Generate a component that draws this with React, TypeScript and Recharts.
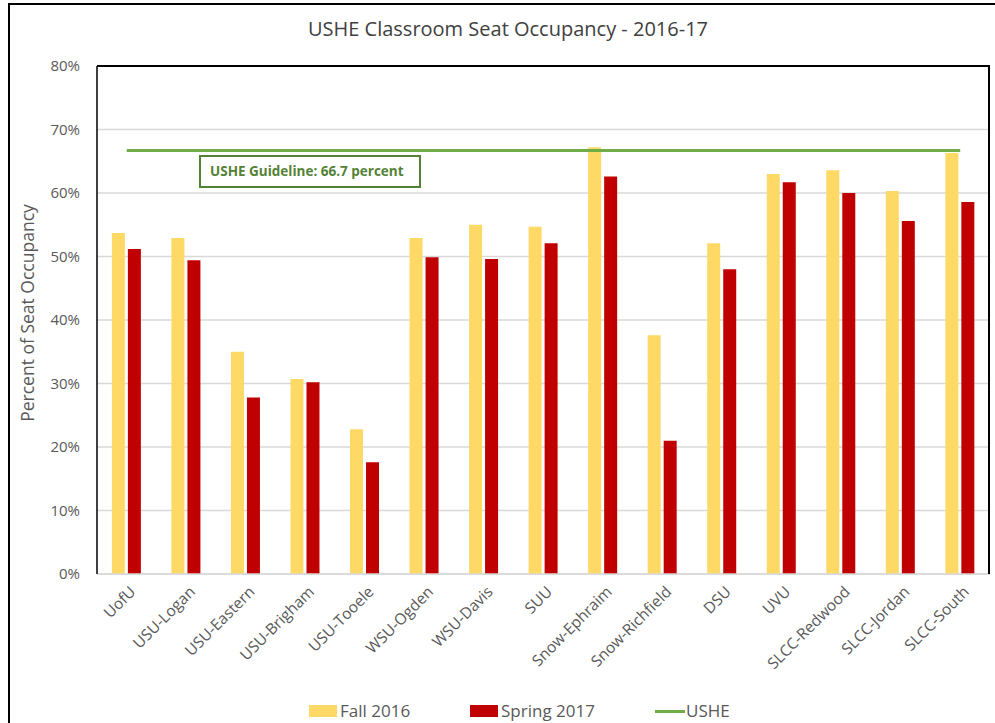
import React from "react";
import {
  Bar,
  CartesianGrid,
  ComposedChart,
  Legend,
  Line,
  XAxis,
  YAxis,
} from "recharts";

const campuses = [
  "UofU",
  "USU-Logan",
  "USU-Eastern",
  "USU-Brigham",
  "USU-Tooele",
  "WSU-Ogden",
  "WSU-Davis",
  "SUU",
  "Snow-Ephraim",
  "Snow-Richfield",
  "DSU",
  "UVU",
  "SLCC-Redwood",
  "SLCC-Jordan",
  "SLCC-South",
];
const fall2016 = [53.7, 52.9, 35.0, 30.7, 22.8, 52.9, 55.0, 54.7, 67.2, 37.6, 52.1, 63.0, 63.6, 60.3, 66.3];
const spring2017 = [51.2, 49.4, 27.8, 30.2, 17.6, 49.9, 49.6, 52.1, 62.6, 21.0, 48.0, 61.7, 60.0, 55.6, 58.6];
const usheGuideline = 66.7;
const yTicks = [0, 10, 20, 30, 40, 50, 60, 70, 80];

const data = campuses.map((name, i) => ({
  name,
  fall: fall2016[i],
  spring: spring2017[i],
  ushe: usheGuideline,
}));

const FONT = "'Open Sans', sans-serif";
const GRAY = "#595959";

function XTick({ x, y, payload }: any) {
  return (
    <g transform={`translate(${x + 6},${y + 15})`}>
      <text
        transform="rotate(-45)"
        textAnchor="end"
        dy="0.35em"
        fill={GRAY}
        fontSize={15.5}
        fontFamily={FONT}
      >
        {payload.value}
      </text>
    </g>
  );
}

function YLabel({ viewBox }: any) {
  const cy = viewBox.y + viewBox.height / 2 - 7;
  return (
    <text
      x={34}
      y={cy}
      transform={`rotate(-90, 34, ${cy})`}
      textAnchor="middle"
      fill={GRAY}
      fontSize={17.5}
      fontFamily={FONT}
    >
      Percent of Seat Occupancy
    </text>
  );
}

function LegendBox() {
  const text: React.CSSProperties = {
    position: "absolute",
    top: 0,
    lineHeight: "24px",
    fontSize: 17,
    color: GRAY,
    fontFamily: FONT,
  };
  return (
    <div style={{ position: "relative", width: 995, height: 24 }}>
      <div style={{ position: "absolute", left: 309, top: 6, width: 28, height: 12, background: "#FFD966" }} />
      <span style={{ ...text, left: 340 }}>Fall 2016</span>
      <div style={{ position: "absolute", left: 470, top: 6, width: 28, height: 12, background: "#C00000" }} />
      <span style={{ ...text, left: 501 }}>Spring 2017</span>
      <div style={{ position: "absolute", left: 655, top: 11, width: 30, height: 3, background: "#70AD47" }} />
      <span style={{ ...text, left: 686 }}>USHE</span>
    </div>
  );
}

export default function App() {
  return (
    <div style={{ position: "absolute", left: 0, top: 0, width: 995, height: 723, overflow: "hidden", background: "#fff" }}>
      <div
        style={{
          position: "absolute",
          left: 8,
          top: 3,
          width: 1100,
          height: 900,
          borderLeft: "2px solid #000",
          borderTop: "2px solid #000",
        }}
      />
      <div
        style={{
          position: "absolute",
          left: 208,
          top: 16,
          width: 600,
          textAlign: "center",
          fontFamily: FONT,
          fontSize: 20,
          color: "#404040",
          lineHeight: "26px",
        }}
      >
        USHE Classroom Seat Occupancy - 2016-17
      </div>
      <div style={{ position: "absolute", left: 0, top: 0 }}>
        <ComposedChart
          width={995}
          height={723}
          data={data}
          margin={{ top: 66, right: 5, bottom: 0, left: 0 }}
          barCategoryGap="25%"
          barGap={3}
        >
          <CartesianGrid vertical={false} stroke="#D9D9D9" strokeWidth={1.5} />
          <XAxis
            dataKey="name"
            interval={0}
            tick={<XTick />}
            tickLine={false}
            tickSize={0}
            tickMargin={0}
            axisLine={{ stroke: "#D9D9D9", strokeWidth: 1.5 }}
            height={125}
          />
          <YAxis
            domain={[0, 80]}
            ticks={yTicks}
            tickFormatter={(v) => `${v}%`}
            tick={{ fill: GRAY, fontSize: 15, fontFamily: FONT }}
            tickLine={false}
            tickSize={0}
            tickMargin={17}
            axisLine={{ stroke: "#000", strokeWidth: 1.5 }}
            width={97}
            label={<YLabel />}
          />
          <Legend
            verticalAlign="bottom"
            content={<LegendBox />}
            wrapperStyle={{ left: 0, width: 995 }}
          />
          <Bar dataKey="fall" name="Fall 2016" fill="#FFD966" isAnimationActive={false} />
          <Bar dataKey="spring" name="Spring 2017" fill="#C00000" isAnimationActive={false} />
          <Line
            dataKey="ushe"
            name="USHE"
            stroke="#70AD47"
            strokeWidth={3}
            dot={false}
            activeDot={false}
            isAnimationActive={false}
          />
        </ComposedChart>
      </div>
      {/* plot frame: top and right edges */}
      <div
        style={{
          position: "absolute",
          left: 97,
          top: 65,
          width: 893,
          height: 509,
          boxSizing: "border-box",
          borderTop: "2px solid #000",
          borderRight: "2px solid #000",
          pointerEvents: "none",
        }}
      />
      <div
        style={{
          position: "absolute",
          left: 199,
          top: 155,
          width: 222,
          height: 33,
          boxSizing: "border-box",
          border: "2px solid #548235",
          background: "#fff",
          color: "#548235",
          fontFamily: FONT,
          fontWeight: 700,
          fontSize: 13.5,
          lineHeight: "29px",
          paddingLeft: 9,
          whiteSpace: "nowrap",
        }}
      >
        USHE Guideline: 66.7 percent
      </div>
    </div>
  );
}
